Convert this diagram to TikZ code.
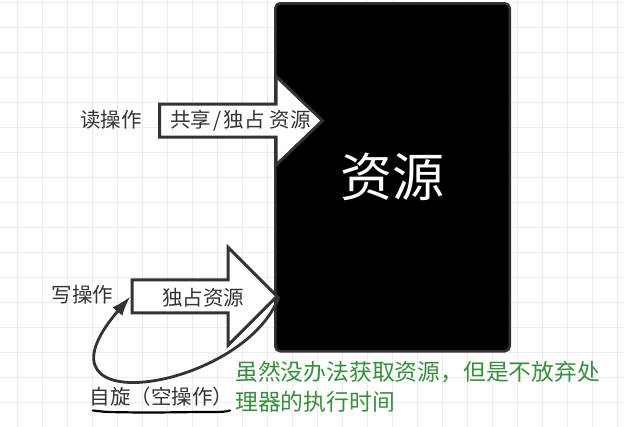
\documentclass[tikz,border=0pt]{standalone}
\usepackage{fontspec}
\usepackage{tikz}
\usetikzlibrary{shapes.arrows,arrows.meta}
\newfontfamily\cjk{Noto Sans CJK SC}
\definecolor{gridgray}{RGB}{236,236,236}
\definecolor{darkgray}{RGB}{51,51,51}
\definecolor{notegreen}{RGB}{56,142,60}

\begin{document}
\begin{tikzpicture}[x=1pt, y=-1pt]
    % Define styles
    \tikzstyle{gridline} = [draw=gridgray, line width=1.5pt]
    \tikzstyle{resource} = [rectangle, rounded corners=5pt, minimum width=234.5pt, minimum height=348pt, draw=darkgray, line width=2.5pt, fill=black, text=white, font=\cjk\fontsize{52}{60}\selectfont]
    \tikzstyle{blockarrow} = [single arrow, draw=darkgray, line width=3pt, fill=white, inner xsep=2pt, inner ysep=7pt, minimum width=0pt, text height=12.5pt, text depth=3.5pt]
    \tikzstyle{oplabel} = [text=darkgray, inner sep=0pt, font=\cjk\fontsize{20.5}{24}\selectfont]
    \tikzstyle{note} = [text=notegreen, align=left, inner sep=0pt, font=\cjk\fontsize{22.8}{30}\selectfont]
    \tikzstyle{spin} = [draw=darkgray, line width=2.8pt, -{Latex[length=20pt,width=13pt]}]
    \tikzstyle{underline} = [draw=black, line width=2.2pt, line cap=round]

    \useasboundingbox (0,0) rectangle (624,427);

    % Grid background
    \foreach \gx in {0,...,24}
        \draw [gridline] (17.7+25*\gx,0) -- (17.7+25*\gx,427);
    \foreach \gy in {0,...,17}
        \draw [gridline] (0,2.7+25*\gy) -- (624,2.7+25*\gy);

    % Resource
    \node [resource] (resource) at (392.5,177.3) {资源};

    % Read and write access
    \node [blockarrow, anchor=tail, minimum height=163pt, single arrow head extend=27.75pt, single arrow tip angle=87.4] (read_arrow) at (158,120.7) {};
    \node [blockarrow, anchor=tail, minimum height=145pt, single arrow head extend=32.3pt, single arrow tip angle=90] (write_arrow) at (130.5,296.3) {};
    \node [oplabel] (read_text) at (240.5,120.5) {共享\kern2pt/\kern2pt独占\kern5pt 资源};
    \node [oplabel] (write_text) at (203.4,297.5) {独占资源};
    \node [oplabel] (read_label) at (111,120) {读操作};
    \node [oplabel] (write_label) at (82.5,295) {写操作};

    % Spinning
    \draw [spin] (write_arrow.tip) .. controls (245,390) and (20,425) .. (write_arrow.tail);
    \node [oplabel] (spin_label) at (161.5,397) {自旋（空操作）};
    \draw [underline] plot [smooth] coordinates {(93,410.5) (110,412) (150,412.5) (200,412) (222,411.8) (230,410.5)};

    \node [note, anchor=west] (note) at (235,386.7) {虽然没办法获取资源，但是不放弃处\\理器的执行时间};
\end{tikzpicture}
\end{document}
